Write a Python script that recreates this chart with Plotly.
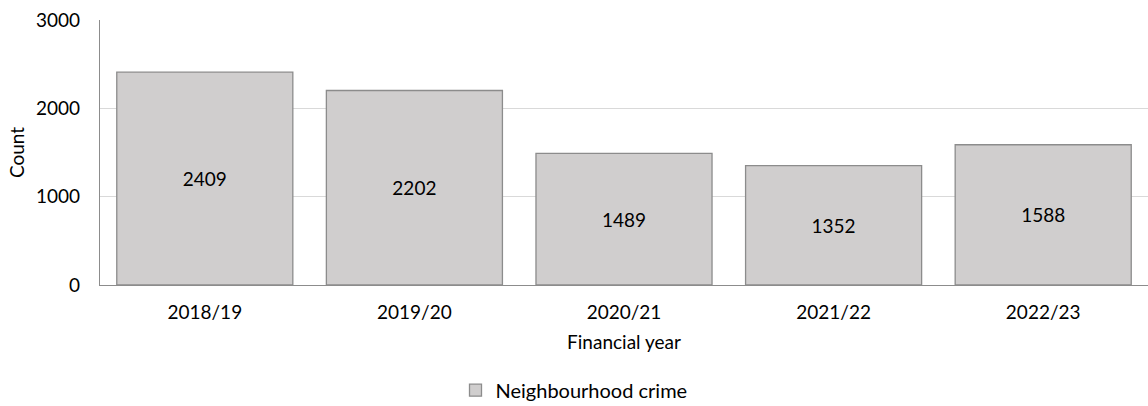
import plotly.graph_objects as go

years = ["2018/19", "2019/20", "2020/21", "2021/22", "2022/23"]
counts = [2409, 2202, 1489, 1352, 1588]
series_name = "Neighbourhood crime"

FONT = "Lato"

fig = go.Figure()
fig.add_trace(go.Bar(
    x=years, y=counts, name=series_name,
    marker=dict(color="#d0cece", line=dict(color="#8c8c8c", width=1.3)),
    text=[str(v) for v in counts], textposition="inside", insidetextanchor="middle",
    textfont=dict(family=FONT, size=19, color="#000000"),
    showlegend=True,
))

fig.update_layout(
    width=1148, height=406,
    margin=dict(l=100, r=0, t=20, b=121),
    paper_bgcolor="white", plot_bgcolor="white",
    font=dict(family=FONT, size=19, color="#000000"),
    bargap=0.16,
    xaxis=dict(
        title=dict(text="Financial year", font=dict(size=19), standoff=13),
        showline=True, linecolor="#8c8c8c", linewidth=1.3,
        ticks="", tickfont=dict(size=19), ticklabelstandoff=10,
    ),
    yaxis=dict(
        title=dict(text="Count", font=dict(size=19), standoff=6),
        range=[0, 3000], tickvals=[0, 1000, 2000, 3000],
        showgrid=True, gridcolor="#d9d9d9", gridwidth=1,
        showline=True, linecolor="#8c8c8c", linewidth=1.3,
        zeroline=False, ticks="", tickfont=dict(size=19), ticklabelstandoff=15,
    ),
    legend=dict(
        orientation="h", xref="container", yref="container",
        x=0.5, xanchor="center", y=0.039, yanchor="middle",
        font=dict(size=20),
    ),
)

fig.write_html("out.html")
